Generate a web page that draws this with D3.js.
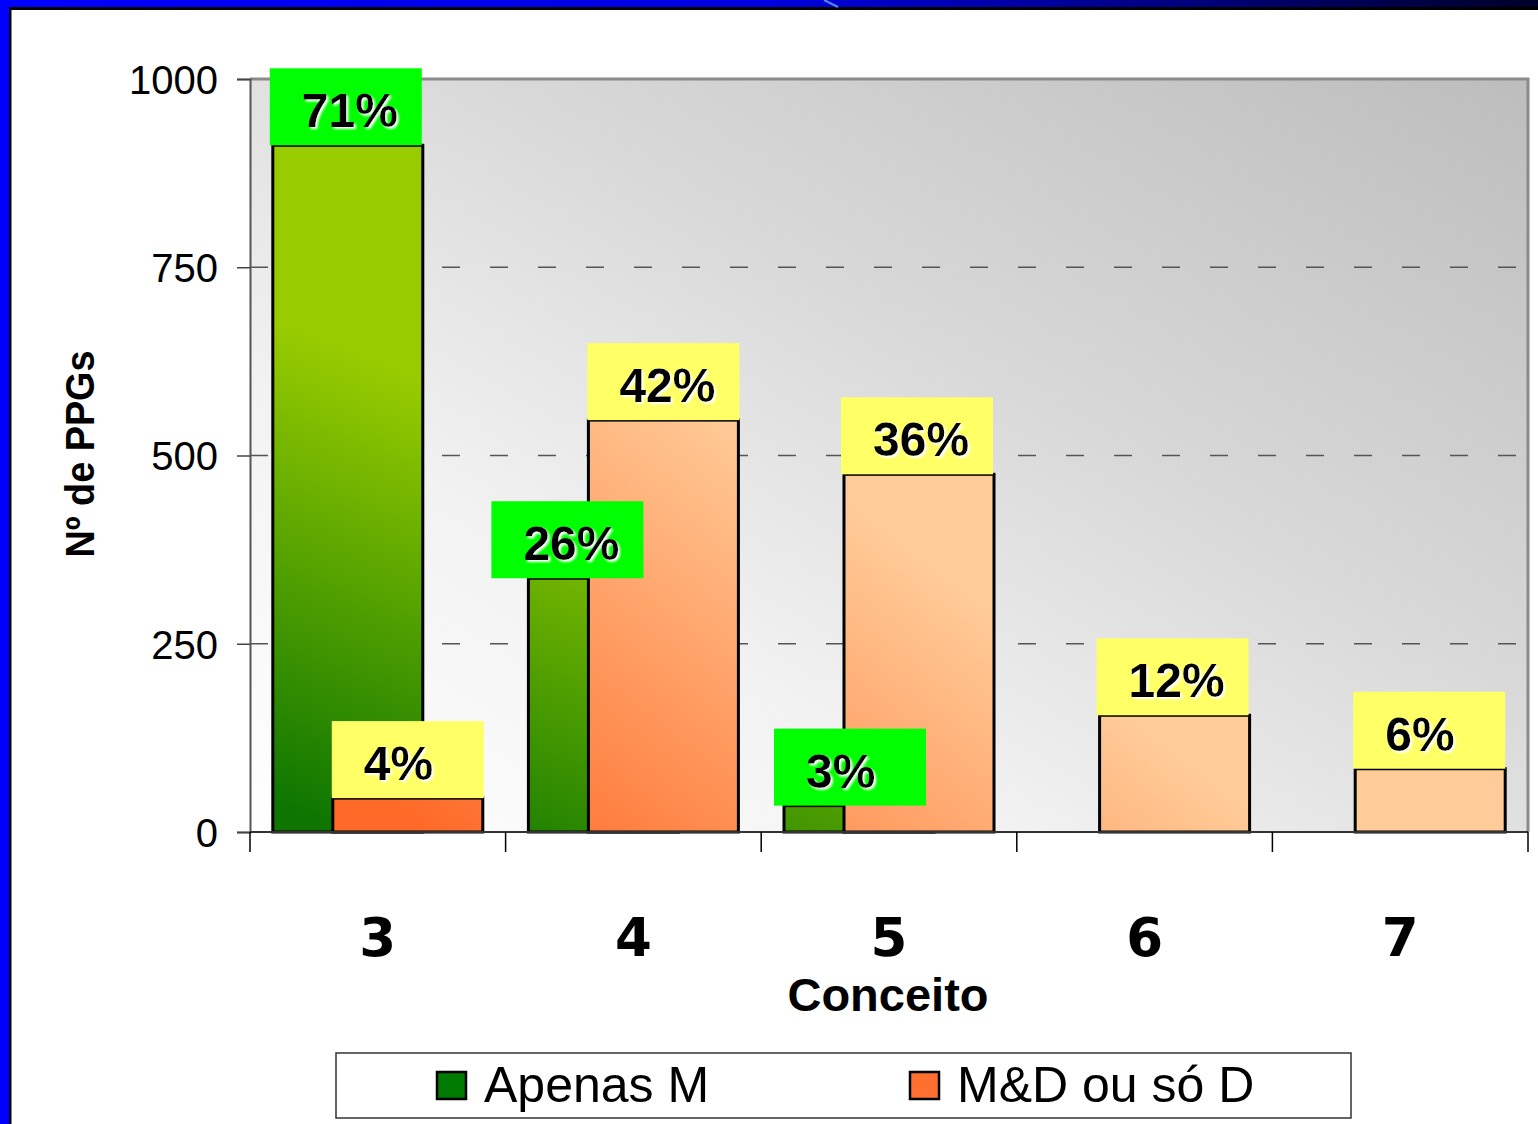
<!DOCTYPE html>
<html>
<head>
<meta charset="utf-8">
<script src="https://cdn.jsdelivr.net/npm/d3@7"></script>
<style>
  body { margin: 0; background: #fff; }
  svg { display: block; }
</style>
</head>
<body>
<svg id="chart"></svg>
<script>
// data
const conceitos = ["3", "4", "5", "6", "7"];
const apenasM = [912, 337, 35, 0, 0];
const mdOuSoD = [45, 547, 475, 155, 84];
const pctApenasM = ["71%", "26%", "3%", "", ""];
const pctMdOuSoD = ["4%", "42%", "36%", "12%", "6%"];
const yTicks = [0, 250, 500, 750, 1000];
const seriesNames = ["Apenas M", "M&D ou só D"];

// some label boxes were dragged sideways in the original
const LABEL_SHIFT_M = [-2, -36, -9, 0, 0];
const LABEL_SHIFT_MD = [0, 0, -2, -2, -1];

const WIDTH = 1538;
const HEIGHT = 1124;
const PLOT = { left: 250, right: 1528, top: 79, bottom: 832 };
const FONT = "'Liberation Sans', Arial, sans-serif";

const svg = d3.select("#chart").attr("width", WIDTH).attr("height", HEIGHT);
const defs = svg.append("defs");

// gradients
const addGradient = (id, attrs, stops) => {
  const g = defs.append("linearGradient").attr("id", id);
  Object.entries(attrs).forEach(([k, v]) => g.attr(k, v));
  g.selectAll("stop")
    .data(stops)
    .join("stop")
    .attr("offset", (d) => d[0])
    .attr("stop-color", (d) => d[1]);
};
addGradient("topBar", { x1: 0, y1: 0, x2: 1, y2: 0 }, [[0, "#0000ff"], [0.5, "#0000e0"], [1, "#000028"]]);
addGradient("plotBg", { x1: 0, y1: 1, x2: 1, y2: 0 }, [
  [0, "#ffffff"], [0.3, "#f2f2f2"], [0.6, "#d8d8d8"], [1, "#bdbdbd"],
]);
addGradient(
  "greenFill",
  { gradientUnits: "userSpaceOnUse", x1: 349, y1: 830, x2: 515, y2: 416 },
  [[0, "#0e7600"], [1, "#99cc00"]]
);
addGradient(
  "orangeFill",
  { gradientUnits: "userSpaceOnUse", x1: 407, y1: 815, x2: 724, y2: 403 },
  [[0, "#ff6a28"], [1, "#ffcc99"]]
);

const shadow = defs.append("filter").attr("id", "glow")
  .attr("x", "-20%").attr("y", "-20%").attr("width", "140%").attr("height", "140%");
shadow.append("feDropShadow")
  .attr("dx", 2).attr("dy", 2).attr("stdDeviation", 1.2)
  .attr("flood-color", "#ffffff").attr("flood-opacity", 1);

// frame
svg.append("rect").attr("width", WIDTH).attr("height", HEIGHT).attr("fill", "#ffffff");
svg.append("rect").attr("x", 0).attr("y", 0).attr("width", WIDTH).attr("height", 7).attr("fill", "url(#topBar)");
svg.append("rect").attr("x", 8).attr("y", 7).attr("width", WIDTH).attr("height", 3).attr("fill", "#000");
svg.append("rect").attr("x", 0).attr("y", 0).attr("width", 9).attr("height", HEIGHT).attr("fill", "#0000ff");
svg.append("rect").attr("x", 9).attr("y", 7).attr("width", 2.5).attr("height", HEIGHT).attr("fill", "#000");
svg.append("line").attr("x1", 824).attr("y1", 0).attr("x2", 838).attr("y2", 7)
  .attr("stroke", "#4d8cff").attr("stroke-width", 2);

// scales
const x = d3.scaleBand().domain(conceitos).range([PLOT.left, PLOT.right]).padding(0);
const y = d3.scaleLinear().domain([0, 1000]).range([PLOT.bottom, PLOT.top]);

const bw = x.bandwidth();
const groupW = bw * 0.8216;
const OVERLAP = 0.6;
const barW = groupW / (2 - OVERLAP);
const barOffset = (i) => (bw - groupW) / 2 + i * barW * (1 - OVERLAP);

// plot area
svg.append("rect")
  .attr("x", PLOT.left).attr("y", PLOT.top)
  .attr("width", PLOT.right - PLOT.left).attr("height", PLOT.bottom - PLOT.top)
  .attr("fill", "url(#plotBg)");

// dashed gridlines
svg.append("g")
  .selectAll("line")
  .data(yTicks.filter((t) => t > 0 && t < 1000))
  .join("line")
  .attr("x1", PLOT.left).attr("x2", PLOT.right)
  .attr("y1", (d) => y(d)).attr("y2", (d) => y(d))
  .attr("stroke", "#555").attr("stroke-width", 1.5)
  .attr("stroke-dasharray", "18 30");

// top and right border
svg.append("path")
  .attr("d", `M${PLOT.left},${PLOT.top}H${PLOT.right}V${PLOT.bottom}`)
  .attr("fill", "none").attr("stroke", "#8a8a8a").attr("stroke-width", 3);

// bars
const series = [
  { name: seriesNames[0], values: apenasM, labels: pctApenasM, fill: "url(#greenFill)", box: "#00ff00", shift: LABEL_SHIFT_M },
  { name: seriesNames[1], values: mdOuSoD, labels: pctMdOuSoD, fill: "url(#orangeFill)", box: "#ffff66", shift: LABEL_SHIFT_MD },
];

const barData = series.flatMap((s, si) =>
  conceitos.map((c, ci) => ({
    si, c, value: s.values[ci], label: s.labels[ci], fill: s.fill, box: s.box, shift: s.shift[ci],
    x: x(c) + barOffset(si),
  }))
).filter((d) => d.value > 0);

svg.append("g")
  .selectAll("rect")
  .data(barData)
  .join("rect")
  .attr("x", (d) => d.x)
  .attr("y", (d) => y(d.value))
  .attr("width", barW)
  .attr("height", (d) => y(0) - y(d.value))
  .attr("fill", (d) => d.fill)
  .attr("stroke", "#000")
  .attr("stroke-width", 3);

// axes
const yAxis = svg.append("g")
  .attr("transform", `translate(${PLOT.left},0)`)
  .call(d3.axisLeft(y).tickValues(yTicks).tickSize(13).tickPadding(19).tickFormat(d3.format("d")));
yAxis.select(".domain").attr("stroke", "#555").attr("stroke-width", 2);
yAxis.selectAll(".tick line").attr("stroke", "#444").attr("stroke-width", 1.5);
yAxis.selectAll(".tick text")
  .attr("font-family", FONT).attr("font-size", 40).attr("fill", "#000").attr("dy", "0.36em");

svg.append("line")
  .attr("x1", PLOT.left).attr("x2", PLOT.right)
  .attr("y1", PLOT.bottom).attr("y2", PLOT.bottom)
  .attr("stroke", "#333").attr("stroke-width", 2);

const boundaries = conceitos.map((c) => x(c)).concat([x.range()[1]]);
svg.append("g")
  .selectAll("line")
  .data(boundaries)
  .join("line")
  .attr("x1", (d) => d).attr("x2", (d) => d)
  .attr("y1", PLOT.bottom).attr("y2", PLOT.bottom + 20)
  .attr("stroke", "#000").attr("stroke-width", 1.5);

svg.append("g")
  .selectAll("text")
  .data(conceitos)
  .join("text")
  .attr("x", (d) => x(d) + bw / 2)
  .attr("y", 956)
  .attr("text-anchor", "middle")
  .attr("font-family", "'DejaVu Sans', sans-serif")
  .attr("font-weight", "bold")
  .attr("font-size", 53)
  .text((d) => d);

svg.append("text")
  .attr("x", 888).attr("y", 1011)
  .attr("text-anchor", "middle")
  .attr("font-family", FONT).attr("font-weight", "bold").attr("font-size", 47)
  .text("Conceito");

svg.append("text")
  .attr("transform", "translate(94,454) rotate(-90)")
  .attr("text-anchor", "middle")
  .attr("font-family", FONT).attr("font-weight", "bold").attr("font-size", 41)
  .attr("textLength", 207).attr("lengthAdjust", "spacingAndGlyphs")
  .text("Nº de PPGs");

// percentage labels
const BOX_H = 77;
const labels = svg.append("g")
  .selectAll("g")
  .data(barData.filter((d) => d.label))
  .join("g")
  .attr("transform", (d) => `translate(${d.x - 1 + d.shift},${y(d.value) - BOX_H})`);
labels.append("rect")
  .attr("width", barW + 2).attr("height", BOX_H)
  .attr("fill", (d) => d.box);
labels.append("text")
  .attr("x", 32).attr("y", 59)
  .attr("font-family", FONT).attr("font-weight", "bold").attr("font-size", 48)
  .attr("filter", "url(#glow)")
  .text((d) => d.label);

// legend
const legend = svg.append("g");
legend.append("rect")
  .attr("x", 336).attr("y", 1053).attr("width", 1015).attr("height", 65)
  .attr("fill", "#fff").attr("stroke", "#333").attr("stroke-width", 1.5);
const legendItems = legend.selectAll("g.item")
  .data(series.map((s, i) => ({ name: s.name, color: ["#007a00", "#ff7030"][i], x: [437, 910][i] })))
  .join("g").attr("class", "item")
  .attr("transform", (d) => `translate(${d.x},1072)`);
legendItems.append("rect")
  .attr("width", 29).attr("height", 27)
  .attr("fill", (d) => d.color).attr("stroke", "#000").attr("stroke-width", 2.5);
legendItems.append("text")
  .attr("x", 47).attr("y", 30)
  .attr("font-family", FONT).attr("font-size", 50)
  .text((d) => d.name);
</script>
</body>
</html>
